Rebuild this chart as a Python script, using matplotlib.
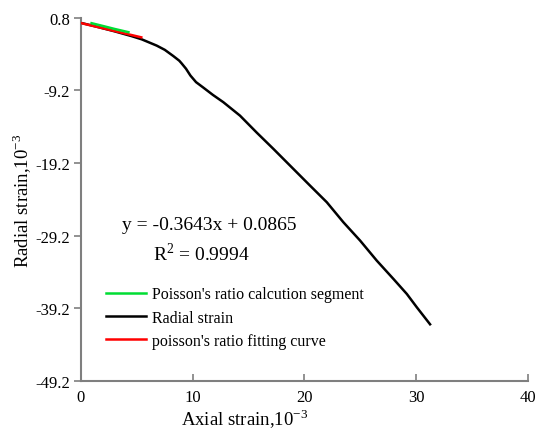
import numpy as np
import matplotlib.pyplot as plt

plt.rcParams['font.family'] = ['Liberation Serif', 'DejaVu Serif']
plt.rcParams['mathtext.fontset'] = 'custom'
plt.rcParams['mathtext.rm'] = 'Liberation Serif'

# radial strain vs axial strain (10^-3)
axial = [0.0, 1.5, 3.0, 4.5, 5.43, 6.78, 7.5, 8.26, 8.8, 9.0, 9.4, 9.8,
         10.3, 10.95, 11.8, 12.74, 14.23, 15.73, 17.22, 18.71, 20.5, 22.0,
         23.48, 24.98, 26.47, 27.96, 29.16, 30.05, 31.24]
radial = [0.11, -0.45, -1.05, -1.70, -2.15, -3.02, -3.6, -4.45, -5.1, -5.45,
          -6.2, -7.15, -8.05, -8.8, -9.8, -10.81, -12.66, -15.0, -17.24,
          -19.54, -22.3, -24.59, -27.34, -29.87, -32.63, -35.15, -37.22,
          -39.05, -41.4]

# segment used for poisson's ratio
seg_x = [0.95, 2.0, 3.0, 4.25]
seg_y = [0.07, -0.33, -0.72, -1.17]

# linear fit
slope = -0.3643
intercept = 0.0865
fit_x = np.array([0.0, 5.4])
fit_y = slope * fit_x + intercept

fig = plt.figure(figsize=(5.36, 4.39), dpi=100)
ax = fig.add_axes([0.151, 0.130, 0.834, 0.827])

ax.plot(axial, radial, color='black', lw=1.8, label='Radial strain', zorder=2)
ax.plot(fit_x, fit_y, color='#ff0000', lw=1.8, label="poisson's ratio fitting curve", zorder=3)
ax.plot(seg_x, seg_y, color='#00dd33', lw=1.8, label="Poisson's ratio calcution segment", zorder=4)

ax.set_xlim(0, 40)
ax.set_ylim(-49.2, 0.8)
ax.set_xticks([0, 10, 20, 30, 40])
ax.set_yticks([0.8, -9.2, -19.2, -29.2, -39.2, -49.2])
ax.set_yticklabels(['0.8', '-9.2', '-19.2', '-29.2', '-39.2', '-49.2'])

for s in ['top', 'right']:
    ax.spines[s].set_visible(False)
for s in ['left', 'bottom']:
    ax.spines[s].set_color('#7f7f7f')
    ax.spines[s].set_linewidth(1.5)
ax.tick_params(axis='x', direction='in', length=5, width=1.2, color='#7f7f7f',
               labelsize=12, pad=6)
ax.tick_params(axis='y', direction='out', length=5, width=1.2, color='#7f7f7f',
               labelsize=12, pad=3)

ax.set_xlabel(r'Axial strain,10$^{-3}$', fontsize=13.5)
ax.set_ylabel(r'Radial strain,10$^{-3}$', fontsize=13.5)
ax.xaxis.set_label_coords(0.365, -0.071)
ax.yaxis.set_label_coords(-0.105, 0.5)

ax.text(11.46, -27.7, 'y = -0.3643x + 0.0865', fontsize=14, ha='center', va='center')
ax.text(10.8, -31.6, r'R$^2$ = 0.9994', fontsize=14, ha='center', va='center')

handles, labels = ax.get_legend_handles_labels()
order = [2, 0, 1]
ax.legend([handles[i] for i in order], [labels[i] for i in order],
          loc='upper left', bbox_to_anchor=(0.025, 0.30), frameon=False,
          fontsize=11.5, handlelength=2.45, handletextpad=0.4, labelspacing=0.45)

fig.savefig('out.png', dpi=100)
